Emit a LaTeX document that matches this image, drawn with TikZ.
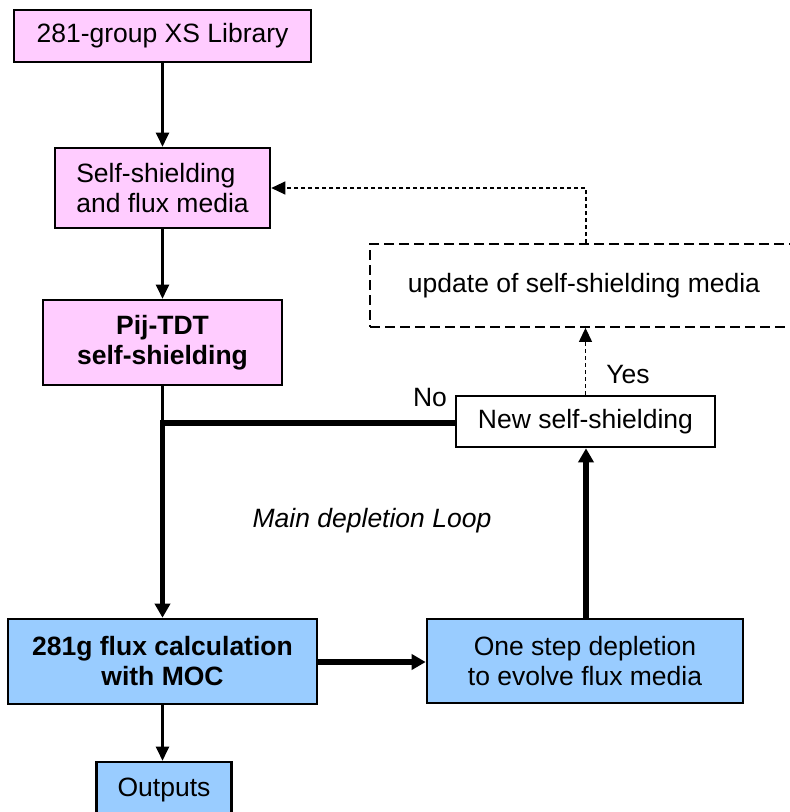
\documentclass[tikz,border=0pt]{standalone}
\usepackage{fontspec}
\setmainfont{Liberation Sans}
\usetikzlibrary{arrows.meta,positioning}
\definecolor{pinkbox}{HTML}{FFCCFF}
\definecolor{bluebox}{HTML}{99CCFF}
\begin{document}
\begin{tikzpicture}[x=1pt,y=1pt,
  txt/.style={font=\fontsize{26.5}{30}\selectfont},
  box/.style={txt,draw=black,line width=2.6pt,rectangle,inner sep=0pt,align=center},
  pinkfill/.style={box,fill=pinkbox},
  bluefill/.style={box,fill=bluebox},
  bold/.style={font=\fontsize{26.5}{30}\selectfont\bfseries},
  thinarrow/.style={line width=2.2pt,-{Triangle[length=14pt,width=13pt]}},
  thickarrow/.style={line width=5.5pt,-{Triangle[length=14pt,width=15pt]}},
  thinline/.style={line width=2.2pt},
  thickline/.style={line width=5.5pt},
  dashedarrow/.style={line width=1.2pt,dash pattern=on 4pt off 3pt,-{Triangle[length=14pt,width=13pt]}}]
\clip (0,0) rectangle (790,-812);
\fill[white] (0,0) rectangle (790,-812);

% boxes
\node[pinkfill,minimum width=297pt,minimum height=52pt] (lib) at (162.5,-36) {281-group XS Library};
\node[pinkfill,minimum width=215pt,minimum height=80pt,align=left] (media) at (162.5,-188) {Self-shielding\\and flux media};
\node[pinkfill,bold,minimum width=239pt,minimum height=85pt] (pij) at (162.5,-342.5) {Pij-TDT\\self-shielding};
\node[box,line width=1.8pt,dash pattern=on 10pt off 5pt,minimum width=428pt,minimum height=83pt] (upd) at (584,-285.5) {update of self-shielding media};
\node[box,fill=white,minimum width=259pt,minimum height=51pt] (newss) at (585.5,-421.5) {New self-shielding};
\node[bluefill,bold,minimum width=309pt,minimum height=85pt] (moc) at (162.5,-661.5) {281g flux calculation\\with MOC};
\node[bluefill,minimum width=316pt,minimum height=84pt] (dep) at (585,-661) {One step depletion\\to evolve flux media};
\node[bluefill,minimum width=135pt,minimum height=56pt] (out) at (164,-790) {Outputs};

% labels
\node[txt] (no) at (430,-398) {No};
\node[txt] (yes) at (628,-375) {Yes};
\node[font=\fontsize{26.5}{30}\selectfont\itshape] (loop) at (372,-521) {Main depletion Loop};

% connectors
\draw[thinarrow] (lib.south) -- (media.north);
\draw[thinarrow] (media.south) -- (pij.north);
\coordinate (junc) at (162.5,-423);
\draw[thinline] (pij.south) -- (junc);
\draw[thickline] (newss.west |- junc) -- ([xshift=-2.75pt]junc);
\draw[thickarrow] ([yshift=2.75pt]junc) -- (moc.north);
\draw[thickarrow] (moc.east |- 0,-662) -- (dep.west |- 0,-662);
\draw[thickarrow] (dep.north -| 586,0) -- (newss.south -| 586,0);
\draw[dashedarrow] (newss.north) -- (upd.south -| newss.north);
\draw[dashedarrow] (upd.north -| 586,0) |- (media.east);
\draw[thinarrow] (moc.south) -- (moc.south |- out.north);
\end{tikzpicture}
\end{document}
